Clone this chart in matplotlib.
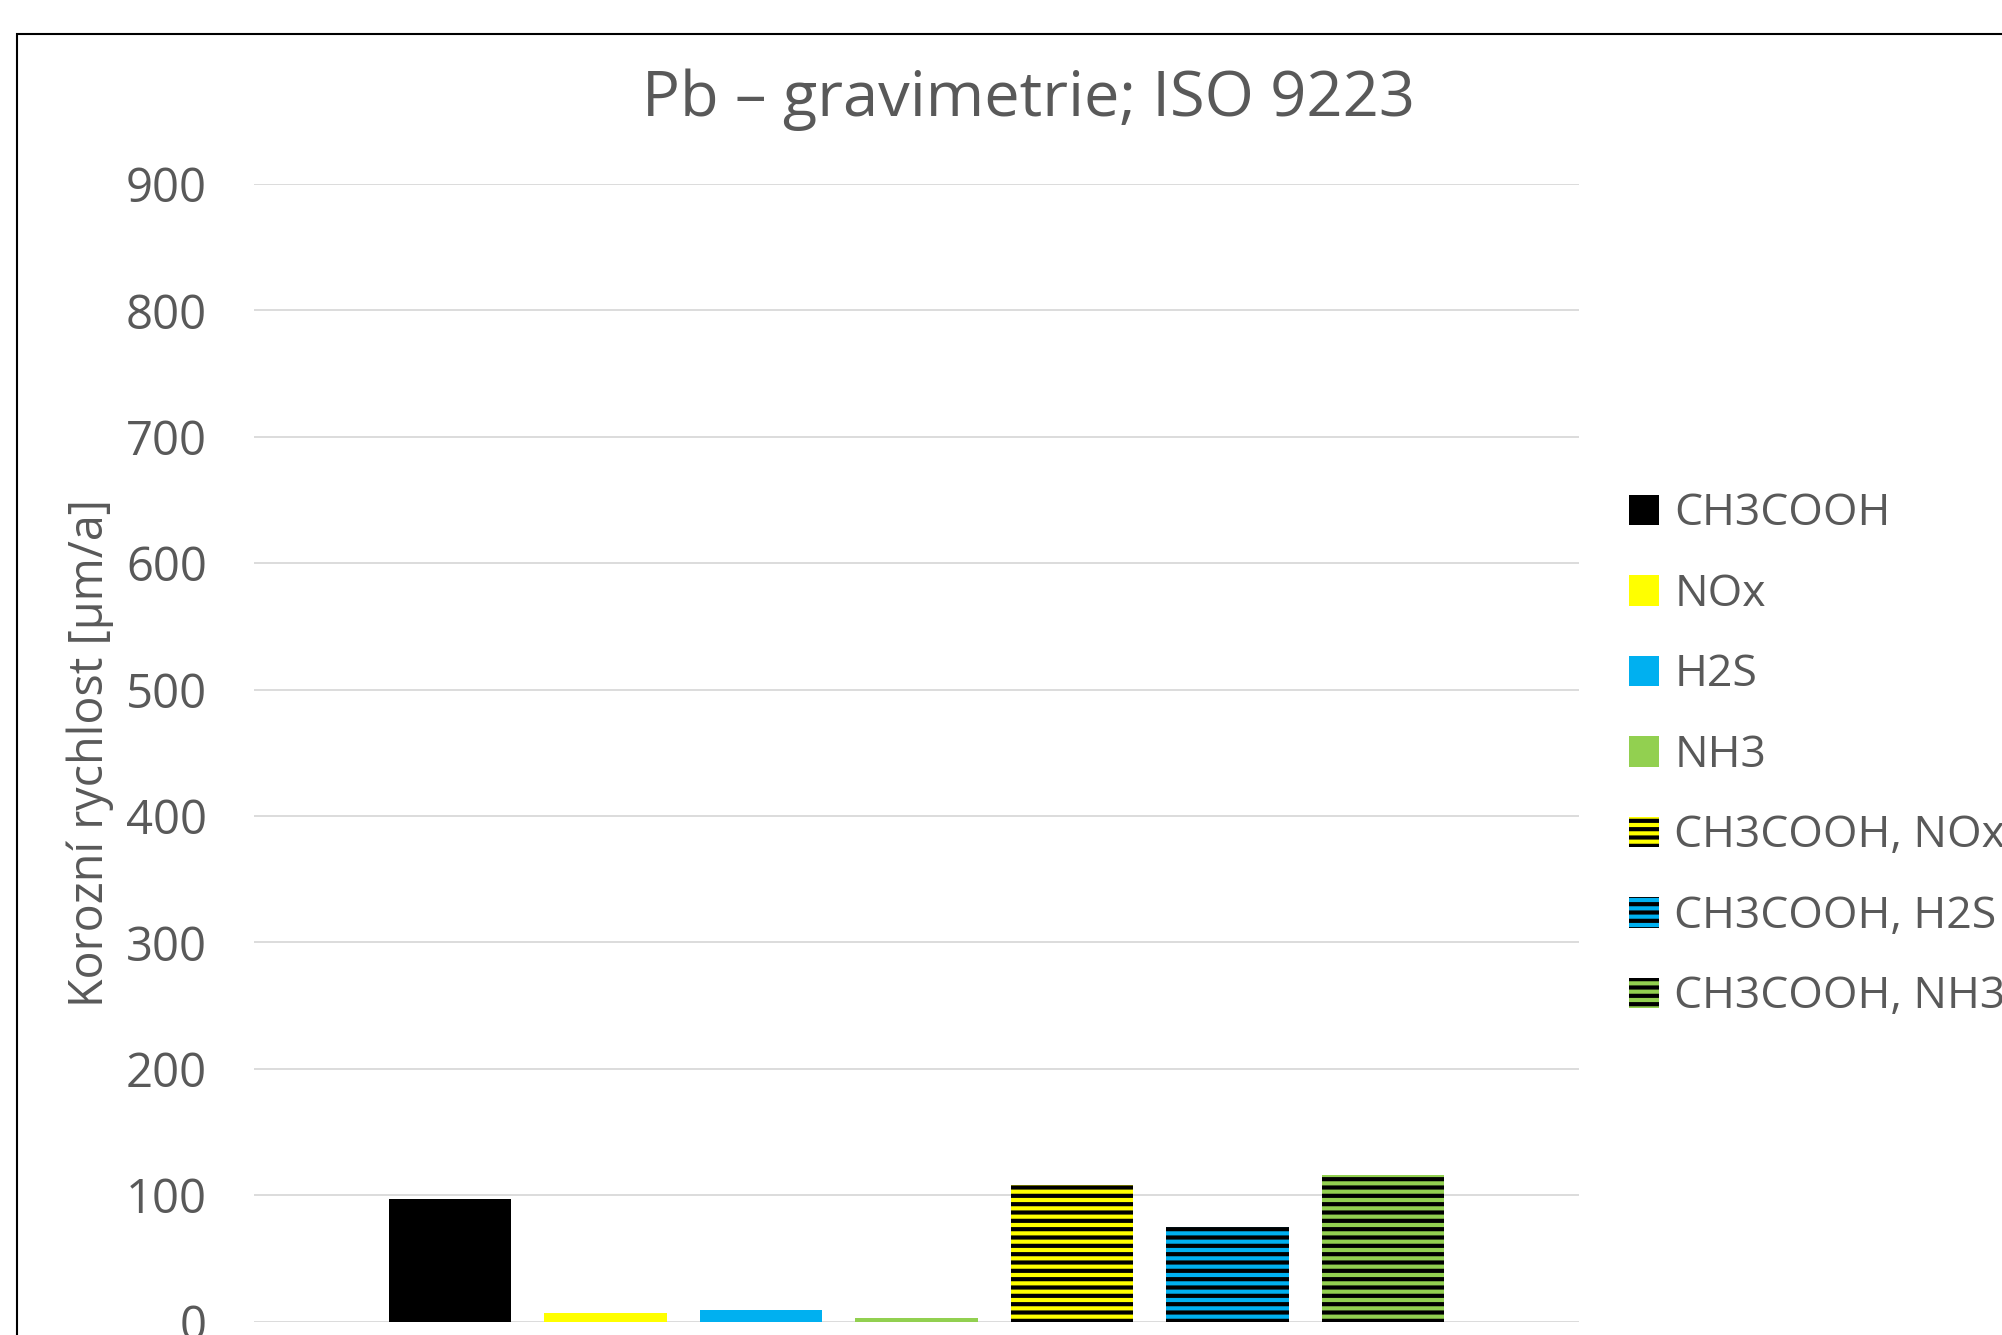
import numpy as np
import matplotlib.pyplot as plt
from matplotlib.patches import Patch, Rectangle

plt.rcParams['font.family'] = ['Open Sans', 'DejaVu Sans']
plt.rcParams['hatch.linewidth'] = 3.0

series = ['CH3COOH', 'NOx', 'H2S', 'NH3',
          'CH3COOH, NOx', 'CH3COOH, H2S', 'CH3COOH, NH3']
values = [97, 7, 9, 3, 108, 75, 116]
colors = ['#000000', '#FFFF00', '#00B0F0', '#92D050',
          '#FFFF00', '#00B0F0', '#92D050']
hatched = [False, False, False, False, True, True, True]
yticks = [0, 100, 200, 300, 400, 500, 600, 700, 800, 900]

W, H = 2002, 1335
txt = '#595959'

fig = plt.figure(figsize=(W/100, H/100), dpi=100)
ax = fig.add_axes([254/W, 1-1321.5/H, (1579-254)/W, (1321.5-184)/H])

x = np.arange(len(values))
handles = []
for i in range(len(values)):
    if hatched[i]:
        ax.bar(x[i], values[i], width=0.79, color=colors[i], edgecolor='black',
               linewidth=0, hatch='--', zorder=3)
        handles.append(Patch(facecolor=colors[i], edgecolor='black', linewidth=0,
                             hatch='--', label=series[i]))
    else:
        ax.bar(x[i], values[i], width=0.79, color=colors[i], linewidth=0, zorder=3)
        handles.append(Patch(facecolor=colors[i], linewidth=0, label=series[i]))

ax.set_xlim(-1.26, 7.26)
ax.set_ylim(0, 900)
ax.set_yticks(yticks)
ax.set_xticks([])
ax.yaxis.grid(True, color='#D9D9D9', linewidth=1.3, zorder=0)
ax.tick_params(axis='y', length=0, pad=34, labelsize=34, labelcolor=txt)
for s in ax.spines.values():
    s.set_visible(False)
ax.set_axisbelow(True)

fig.text(1028/W, 1-116/H, 'Pb – gravimetrie; ISO 9223', ha='center', va='baseline',
         fontsize=45.5, color=txt)
fig.text(90/W, 1-753/H, 'Korozní rychlost [µm/a]', rotation=90, ha='center',
         va='center', fontsize=33.6, color=txt)

fig.legend(handles=handles, loc='upper left', bbox_to_anchor=(1629/W, 1-492/H),
           frameon=False, fontsize=32, labelcolor=txt, borderpad=0, borderaxespad=0,
           handlelength=0.68, handleheight=0.68, handletextpad=0.34, labelspacing=0.81)

fig.add_artist(Rectangle((17/W, -0.1), 2, 1.1-34/H, transform=fig.transFigure,
                         fill=False, edgecolor='black', linewidth=1.5))

fig.savefig('out.png', dpi=100)
